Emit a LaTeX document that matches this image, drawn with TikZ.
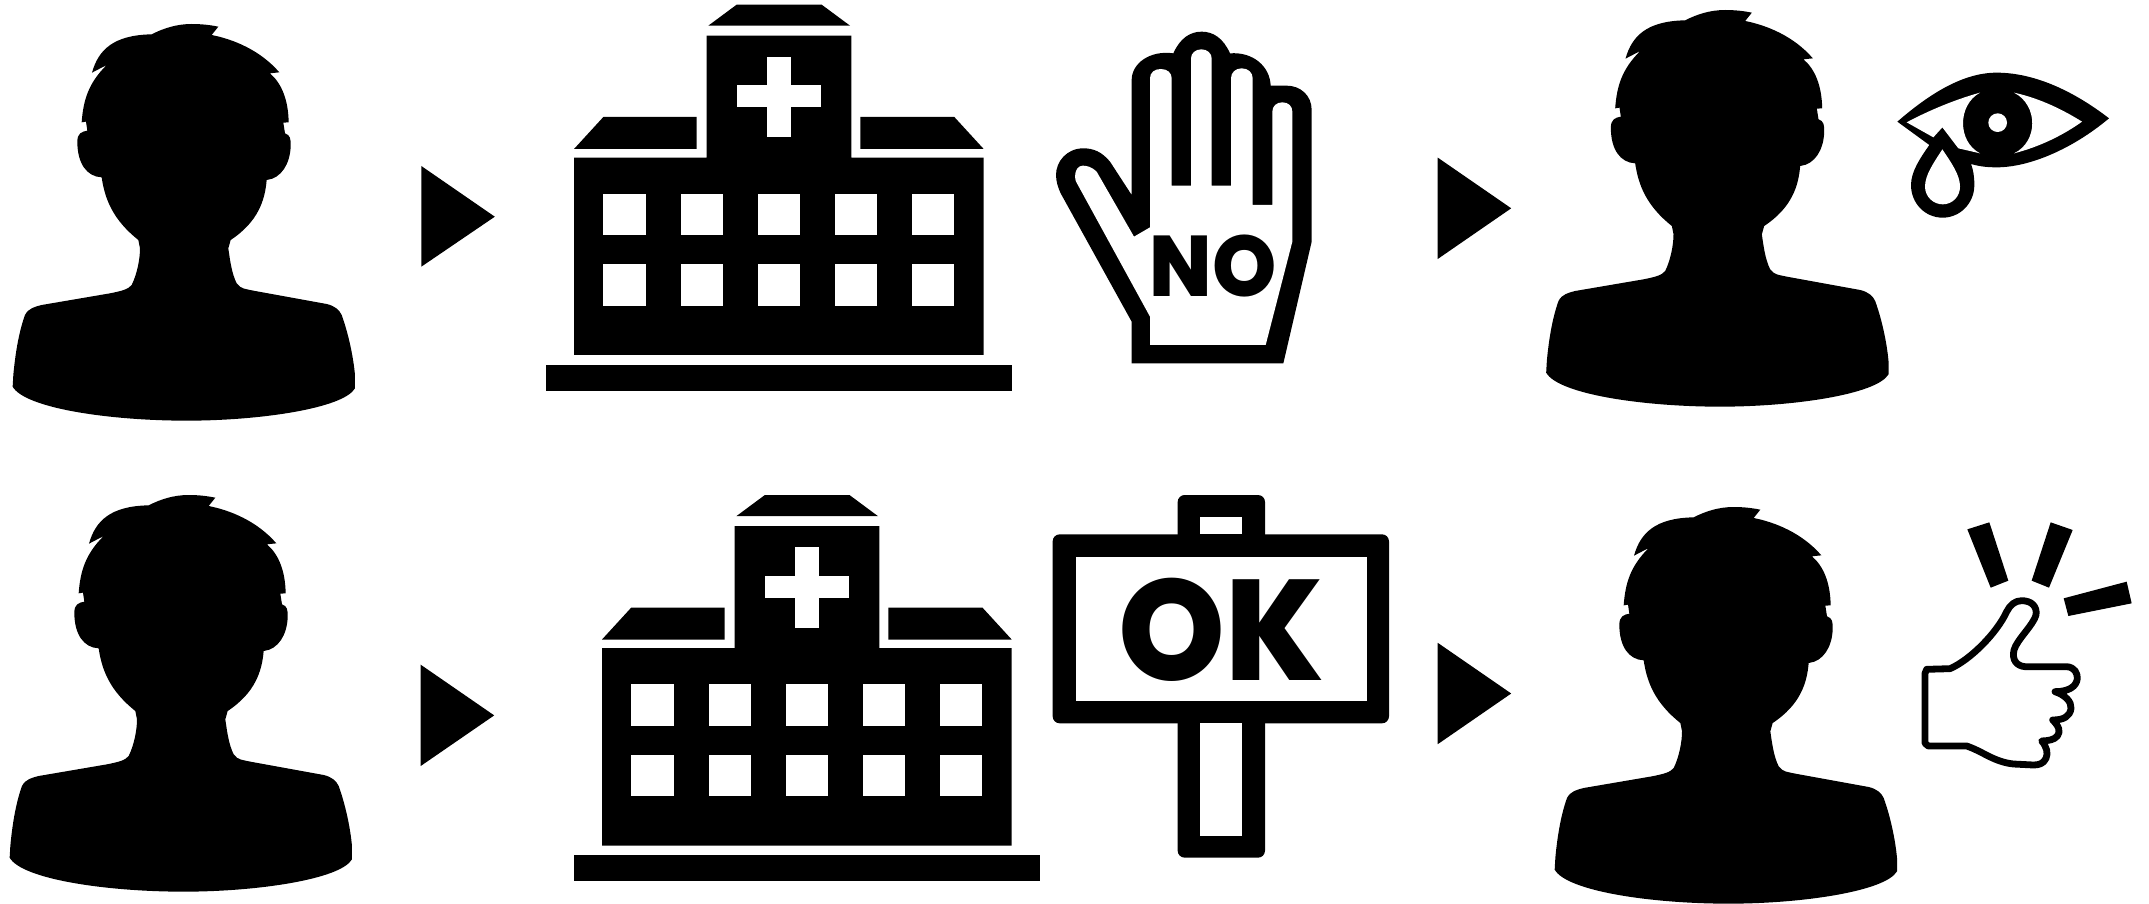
\documentclass[tikz,border=0pt]{standalone}
\usepackage{fontspec}
\setmainfont{Liberation Sans}
\newfontfamily\signfont{Poppins ExtraBold}
\tikzset{
  ink/.style={fill=black,draw=none},
  paper/.style={fill=white,draw=none},
  zoomed/.style={x=0.33333pt,y=-0.33333pt},
  signtext/.style={inner sep=0,text=black,transform shape},
}
\newcommand{\personicon}[2]{%
\begin{scope}[xshift=#1pt,yshift=-#2pt,zoomed]
\fill[ink] (455,103) .. controls (490,85) and (530,72) .. (575,72)
  .. controls (605,72) and (630,75) .. (655,80) -- (635,105)
  .. controls (700,118) and (780,150) .. (838,217) -- (810,220)
  .. controls (845,250) and (865,300) .. (866,367) -- (850,368) -- (855,400)
  .. controls (870,405) and (873,415) .. (872,440)
  .. controls (870,490) and (845,535) .. (800,540)
  .. controls (795,600) and (775,665) .. (692,720) -- (685,745)
  .. controls (690,780) and (695,820) .. (710,850)
  .. controls (722,868) and (740,867) .. (760,872)
  -- (980,912)
  .. controls (1005,918) and (1018,930) .. (1025,945)
  .. controls (1045,1000) and (1060,1070) .. (1065,1125) -- (1065,1165)
  .. controls (1030,1225) and (780,1262) .. (560,1262)
  .. controls (330,1262) and (75,1225) .. (38,1160) -- (40,1125)
  .. controls (45,1070) and (55,1000) .. (75,945)
  .. controls (85,925) and (105,920) .. (125,915)
  -- (330,880)
  .. controls (365,873) and (385,868) .. (395,855)
  .. controls (410,825) and (420,780) .. (420,745) -- (415,720)
  .. controls (340,660) and (315,600) .. (305,532)
  .. controls (260,530) and (232,490) .. (232,425)
  .. controls (232,400) and (245,395) .. (262,392) -- (258,365) -- (245,367)
  .. controls (250,300) and (265,250) .. (320,195) -- (276,218)
  .. controls (295,150) and (340,105) .. (455,103) -- cycle;
\end{scope}}
\newcommand{\hospitalicon}[2]{%
\begin{scope}[xshift=#1pt,yshift=-#2pt,zoomed]
\fill[ink] (650,14) -- (905,14) -- (990,77) -- (565,77) -- cycle;
\fill[ink] (560,107) -- (994,107) -- (994,473) -- (1391,473) -- (1391,1065) -- (162,1065) -- (162,473) -- (560,473) -- cycle;
\fill[ink] (250,351) -- (530,351) -- (530,447) -- (162,447) -- cycle;
\fill[ink] (1021,351) -- (1303,351) -- (1391,447) -- (1021,447) -- cycle;
\fill[ink] (78,1094) rectangle (1476,1172);
\fill[paper] (740,170) rectangle (813,412);
\fill[paper] (652,255) rectangle (902,322);
\foreach \wx/\wy in {250/581,482/581,713/581,944/581,1175/581,250/793,482/793,713/793,944/793,1175/793}
  \fill[paper] (\wx,\wy) rectangle ++(128,124);
\end{scope}}
\newcommand{\playarrow}[3]{%
\fill[ink] (#1,#2) -- ++(73.5,50.7) -- (#1,#3) -- cycle;}
\begin{document}
\begin{tikzpicture}[x=1pt,y=-1pt]
\useasboundingbox (0,0) rectangle (2149,904);
\personicon{0}{0}
\personicon{1533.5}{-14}
\personicon{-3}{471}
\personicon{1542}{483}
\hospitalicon{520}{0}
\hospitalicon{548}{490.5}
\playarrow{421.3}{166}{266.7}
\playarrow{1437.7}{157.6}{259}
\playarrow{420.7}{664.7}{766}
\playarrow{1437.7}{642.8}{744.2}
% hand NO
\begin{scope}[xshift=1040pt,yshift=-20pt,zoomed]
\fill[ink] (275,1030) -- (730,1030) -- (815,665) -- (815,270)
  .. controls (815,225) and (780,197) .. (740,197) -- (692,197)
  .. controls (690,140) and (640,95) .. (570,100)
  .. controls (550,55) and (520,35) .. (485,35)
  .. controls (450,35) and (420,55) .. (400,100)
  .. controls (330,90) and (275,130) .. (275,180)
  -- (275,525) -- (210,425)
  .. controls (185,395) and (160,385) .. (130,385)
  .. controls (80,385) and (48,425) .. (48,465)
  .. controls (48,485) and (55,505) .. (62,520)
  -- (275,905) -- cycle;
\fill[paper] (330,975) -- (677,975) -- (757,665) -- (757,275)
  .. controls (757,258) and (745,247) .. (727,247)
  .. controls (710,247) and (697,258) .. (697,275)
  -- (697,555) -- (638,555) -- (638,175)
  .. controls (638,158) and (625,145) .. (605,145)
  .. controls (586,145) and (573,158) .. (573,175)
  -- (573,497) -- (515,497) -- (515,115)
  .. controls (515,100) and (502,88) .. (484,88)
  .. controls (466,88) and (453,100) .. (453,115)
  -- (453,497) -- (395,497) -- (395,175)
  .. controls (395,158) and (382,147) .. (362,147)
  .. controls (343,147) and (330,158) .. (330,175)
  -- (330,622) -- (282,650) -- (170,455)
  .. controls (155,440) and (140,437) .. (128,437)
  .. controls (115,437) and (105,450) .. (105,470)
  .. controls (105,480) and (108,486) .. (112,492)
  -- (330,890) -- cycle;
\end{scope}
\node[signtext,xscale=0.95,font=\signfont\fontsize{86}{86}\selectfont] (notext) at (1213,266.5) {NO};
% sign OK
\begin{scope}[xshift=1040pt,yshift=-480pt,zoomed]
\fill[ink,rounded corners=7pt] (413,45) rectangle (675,300);
\fill[ink,rounded corners=7pt] (413,600) rectangle (675,1133);
\fill[ink,rounded corners=7pt] (38,163) rectangle (1047,730);
\fill[paper] (108,232) rectangle (980,664);
\fill[paper] (480,110) rectangle (607,163);
\fill[paper] (480,730) rectangle (607,1068);
\end{scope}
\node[signtext,xscale=0.95,font=\signfont\fontsize{143}{143}\selectfont] (oktext) at (1221,630) {OK};
% crying eye
\begin{scope}[xshift=1870pt,yshift=-50pt,zoomed]
\fill[ink] (82,215) .. controls (180,130) and (280,68) .. (380,68)
  .. controls (500,68) and (620,130) .. (717,205)
  .. controls (610,295) and (480,352) .. (380,352)
  .. controls (355,352) and (330,350) .. (303,342)
  .. controls (310,360) and (313,380) .. (313,405)
  .. controls (313,460) and (270,503) .. (218,503)
  .. controls (165,503) and (123,460) .. (123,405)
  .. controls (123,365) and (150,325) .. (178,285) -- cycle;
\fill[paper] (110,217) -- (190,262) -- (217,232) -- (265,295) -- (330,310)
  .. controls (262,275) and (262,165) .. (330,128)
  .. controls (250,150) and (170,185) .. cycle;
\fill[paper] (432,128) .. controls (510,145) and (580,180) .. (636,215)
  .. controls (580,255) and (510,290) .. (432,310)
  .. controls (505,275) and (505,165) .. cycle;
\fill[paper] (383,218) circle[radius=28];
\fill[paper] (217,298) .. controls (190,340) and (165,375) .. (165,410)
  .. controls (165,440) and (190,463) .. (218,463)
  .. controls (247,463) and (270,440) .. (270,410)
  .. controls (270,375) and (245,340) .. (217,298) -- cycle;
\end{scope}
% thumb up
\begin{scope}[xshift=1900pt,yshift=-510pt,zoomed]
\fill[ink] (202,58) -- (268,37) -- (325,212) -- (272,233) -- cycle;
\fill[ink] (452,37) -- (518,60) -- (447,233) -- (395,212) -- cycle;
\fill[ink] (491,265) -- (680,215) -- (695,280) -- (505,318) -- cycle;
\draw[black,line width=6.8pt,line join=round,line cap=round]
  (75,490) -- (80,478) -- (150,476)
  .. controls (210,450) and (290,370) .. (320,305)
  .. controls (330,285) and (345,272) .. (365,272)
  .. controls (395,272) and (412,290) .. (408,315)
  .. controls (400,345) and (350,390) .. (342,420)
  .. controls (335,450) and (350,468) .. (375,470)
  -- (500,470)
  .. controls (525,472) and (532,490) .. (532,505)
  .. controls (530,530) and (505,545) .. (465,545)
  .. controls (495,555) and (515,575) .. (513,595)
  .. controls (510,620) and (490,630) .. (458,630)
  .. controls (478,650) and (482,665) .. (472,678)
  .. controls (462,690) and (445,692) .. (425,693)
  .. controls (440,710) and (445,730) .. (438,745)
  .. controls (430,762) and (415,765) .. (400,765)
  -- (340,762)
  .. controls (280,755) and (250,725) .. (200,708)
  -- (85,708) -- (75,700) -- cycle;
\end{scope}
\end{tikzpicture}
\end{document}
